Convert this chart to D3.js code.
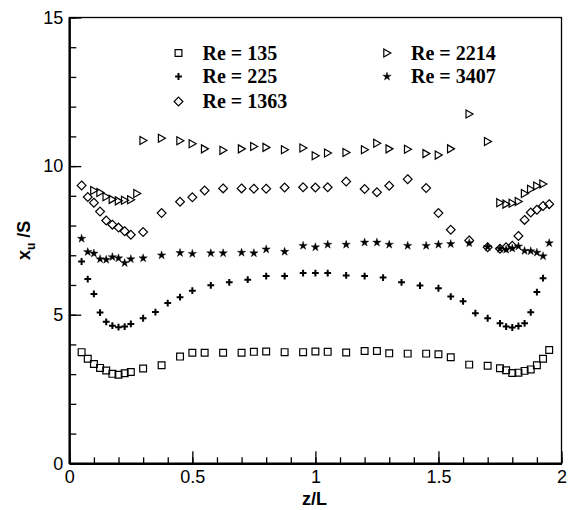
<!DOCTYPE html>
<html>
<head>
<meta charset="utf-8">
<script src="https://cdn.jsdelivr.net/npm/d3@7"></script>
<style>
  body { margin: 0; background: #fff; }
  svg { display: block; }
</style>
</head>
<body>
<div id="chart"></div>
<script>
// z/L positions
var zA = [0.05,0.075,0.1,0.125,0.15,0.175,0.2,0.225,0.25,0.3,0.375,0.45,0.5,0.55,0.625,0.7,0.75,0.8,0.875,0.95,1.0,
          1.05,1.125,1.2,1.25,1.3,1.375,1.45,1.5,1.55,1.625,1.7,1.75,1.775,1.8,1.825,1.85,1.875,1.9,1.925,1.95];
var zPlus = [0.05,0.075,0.1,0.125,0.15,0.175,0.2,0.225,0.25,0.3,0.35,0.4,0.45,0.5,0.575,0.65,0.725,0.8,0.875,0.95,1.0,
             1.05,1.125,1.2,1.275,1.35,1.425,1.5,1.55,1.6,1.65,1.7,1.75,1.775,1.8,1.825,1.85,1.875,1.9,1.925];
var zTri = [0.1,0.125,0.15,0.175,0.2,0.225,0.25,0.275,0.3,0.375,0.45,0.5,0.55,0.625,0.7,0.75,0.8,0.875,0.95,1.0,
            1.05,1.125,1.2,1.25,1.3,1.375,1.45,1.5,1.55,1.625,1.7,1.75,1.775,1.8,1.825,1.85,1.875,1.9,1.925];
var zStar = [0.05,0.075,0.1,0.125,0.15,0.175,0.2,0.225,0.25,0.3,0.375,0.45,0.5,0.575,0.625,0.7,0.75,0.8,0.875,0.95,1.0,
             1.05,1.125,1.2,1.25,1.3,1.375,1.45,1.5,1.55,1.625,1.7,1.75,1.775,1.8,1.825,1.85,1.875,1.9,1.925,1.95];

// x_u/S values
var re135 = [3.74,3.52,3.34,3.21,3.12,3.01,2.98,3.03,3.07,3.19,3.30,3.59,3.72,3.72,3.72,3.72,3.75,3.76,3.74,3.74,3.76,
             3.75,3.73,3.78,3.78,3.70,3.69,3.69,3.67,3.57,3.32,3.28,3.20,3.13,3.04,3.05,3.11,3.16,3.30,3.52,3.81];
var re225 = [6.79,6.20,5.70,5.07,4.76,4.63,4.58,4.60,4.69,4.88,5.09,5.39,5.59,5.81,5.99,6.09,6.18,6.30,6.30,6.40,6.40,
             6.40,6.32,6.30,6.25,6.09,5.98,5.89,5.61,5.45,5.05,4.88,4.71,4.60,4.57,4.62,4.71,5.08,5.76,6.23];
var re1363 = [9.35,8.96,8.77,8.47,8.17,8.03,7.93,7.81,7.69,7.78,8.42,8.80,8.95,9.18,9.25,9.25,9.24,9.24,9.28,9.29,9.28,
              9.29,9.48,9.23,9.12,9.34,9.56,9.26,8.42,7.86,7.50,7.27,7.22,7.27,7.32,7.65,8.19,8.44,8.53,8.66,8.72];
var re2214 = [9.18,9.11,8.97,8.88,8.83,8.85,8.87,9.08,10.86,10.94,10.85,10.75,10.58,10.53,10.58,10.66,10.63,10.55,10.61,10.35,
              10.44,10.46,10.55,10.77,10.58,10.57,10.42,10.37,10.58,11.75,10.83,8.77,8.72,8.75,8.81,9.08,9.22,9.33,9.40];
var re3407 = [7.56,7.11,7.06,6.87,6.85,6.94,6.90,6.74,6.87,6.90,7.00,7.08,7.05,7.07,7.07,7.09,7.07,7.20,7.12,7.32,7.27,
              7.36,7.36,7.43,7.43,7.36,7.32,7.32,7.36,7.38,7.41,7.28,7.22,7.19,7.23,7.30,7.15,7.14,7.09,6.97,7.41];

var xMajor = [0, 0.5, 1, 1.5, 2];
var yMajor = [0, 5, 10, 15];

var W = 574, H = 510;
var margin = {top: 17.5, right: 12.5, bottom: 46.7, left: 69.3};
var width = W - margin.left - margin.right;
var height = H - margin.top - margin.bottom;

var svg = d3.select("#chart").append("svg")
    .attr("width", W).attr("height", H)
  .append("g")
    .attr("transform", "translate(" + margin.left + "," + margin.top + ")");

var x = d3.scaleLinear().domain([0, 2]).range([0, width]);
var y = d3.scaleLinear().domain([0, 15]).range([height, 0]);

// frame
svg.append("rect")
  .attr("width", width).attr("height", height)
  .attr("fill", "none").attr("stroke", "#000").attr("stroke-width", 1.3);

// minor ticks
svg.append("g")
  .attr("transform", "translate(0," + height + ")")
  .call(d3.axisBottom(x).tickValues(d3.range(0, 21).map(function(i) { return i / 10; }))
    .tickSize(-6).tickSizeOuter(0).tickFormat(""))
  .call(function(g) { g.select(".domain").remove(); g.selectAll("line").attr("stroke-width", 1.3); });
svg.append("g")
  .call(d3.axisLeft(y).tickValues(d3.range(0, 16)).tickSize(-7).tickSizeOuter(0).tickFormat(""))
  .call(function(g) { g.select(".domain").remove(); g.selectAll("line").attr("stroke-width", 1.3); });

// major ticks + labels
var xAxis = svg.append("g")
  .attr("transform", "translate(0," + height + ")")
  .call(d3.axisBottom(x).tickValues(xMajor).tickSize(-12).tickSizeOuter(0).tickPadding(7)
    .tickFormat(function(d) { return String(d); }));
var yAxis = svg.append("g")
  .call(d3.axisLeft(y).tickValues(yMajor).tickSize(-12).tickSizeOuter(0).tickPadding(6)
    .tickFormat(function(d) { return String(d); }));
[xAxis, yAxis].forEach(function(a) {
  a.select(".domain").attr("stroke-width", 2.2);
  a.selectAll("line").attr("stroke-width", 1.3);
  a.selectAll("text").attr("font-family", "Liberation Sans, Arial, sans-serif")
    .attr("font-size", 18).attr("fill", "#000");
});

// axis titles
svg.append("text")
  .attr("x", x(1) - 1).attr("y", height + 41.5)
  .attr("text-anchor", "middle")
  .attr("font-family", "Liberation Sans, Arial, sans-serif")
  .attr("font-weight", "bold").attr("font-size", 18)
  .text("z/L");

var yTitle = svg.append("text")
  .attr("transform", "translate(" + (29.5 - margin.left) + "," + (y(7.5)) + ") rotate(-90)")
  .attr("text-anchor", "middle")
  .attr("font-family", "Liberation Sans, Arial, sans-serif")
  .attr("font-weight", "bold").attr("font-size", 18);
yTitle.append("tspan").text("x");
yTitle.append("tspan").attr("font-size", 12).attr("dy", 5).text("u");
yTitle.append("tspan").attr("dy", -5).text(" /S");

// marker shapes
var shapes = {
  square: d3.symbol().type(d3.symbolSquare).size(46)(),
  diamond: "M0,-4.4L4.4,0L0,4.4L-4.4,0Z",
  triangle: "M-3.2,-4L3.8,0L-3.2,4Z",
  plus: "M-3.4,0H3.4M0,-3.4V3.4",
  star: d3.symbol().type(d3.symbolStar).size(22)()
};

function drawMarks(cls, zs, vals, shape) {
  var pts = zs.map(function(z, i) { return {z: z, v: vals[i]}; });
  svg.append("g").attr("class", cls)
    .selectAll("path")
    .data(pts)
    .enter()
    .append("path")
      .attr("transform", function(d) { return "translate(" + x(d.z) + "," + y(d.v) + ")"; })
      .attr("d", shapes[shape])
      .call(styleMark, shape);
}

function styleMark(sel, shape) {
  if (shape === "star") {
    sel.attr("fill", "#000").attr("stroke", "#000").attr("stroke-width", 0.4);
  } else if (shape === "plus") {
    sel.attr("fill", "none").attr("stroke", "#000").attr("stroke-width", 2);
  } else {
    sel.attr("fill", "none").attr("stroke", "#000").attr("stroke-width", 1.2);
  }
}

drawMarks("re135", zA, re135, "square");
drawMarks("re225", zPlus, re225, "plus");
drawMarks("re1363", zA, re1363, "diamond");
drawMarks("re2214", zTri, re2214, "triangle");
drawMarks("re3407", zStar, re3407, "star");

// legend
var legend = [
  {label: "Re = 135", shape: "square", col: 0, row: 0},
  {label: "Re = 225", shape: "plus", col: 0, row: 1},
  {label: "Re = 1363", shape: "diamond", col: 0, row: 2},
  {label: "Re = 2214", shape: "triangle", col: 1, row: 0},
  {label: "Re = 3407", shape: "star", col: 1, row: 1}
];
var legCols = [178.5 - margin.left, 387 - margin.left];
var legRows = [53 - margin.top, 76.5 - margin.top, 101.5 - margin.top];

var li = svg.append("g").selectAll("g").data(legend).enter().append("g")
  .attr("transform", function(d) { return "translate(" + legCols[d.col] + "," + legRows[d.row] + ")"; });
li.append("path")
  .attr("d", function(d) { return shapes[d.shape]; })
  .each(function(d) { styleMark(d3.select(this), d.shape); });
li.append("text")
  .attr("x", 24).attr("dy", "0.34em")
  .attr("font-family", "Liberation Serif, Times New Roman, serif")
  .attr("font-weight", "bold").attr("font-size", 20)
  .text(function(d) { return d.label; });
</script>
</body>
</html>
